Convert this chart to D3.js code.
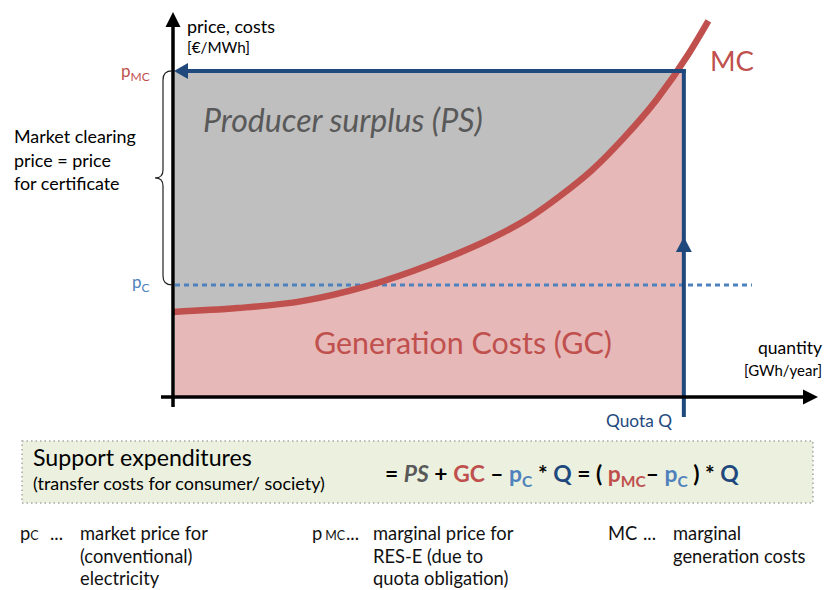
<!DOCTYPE html>
<html><head><meta charset="utf-8">
<script src="https://cdn.jsdelivr.net/npm/d3@7"></script>
<style>html,body{margin:0;padding:0;background:#fff;} svg{display:block;}</style>
</head><body>
<svg id="chart" width="824" height="590"></svg>
<script>
// ---- data (abstract units: quantity 0..100, price 0..100) ----
const quantity = [0, 10, 20, 30, 40, 50, 55, 60, 65, 70, 75, 80, 83];
const marginalCost = [22.1, 23.1, 24.9, 28.8, 34.5, 41.7, 46.3, 52.2, 59.0, 67.5, 77.3, 89.3, 97.7];
const quotaQ = [79.2];
const priceLevels = [84.7, 29.1]; // pMC, pC
const marketLabelLines = ["Market clearing", "price = price", "for certificate"];
const legendItems = [
  {sym: "p", sub: "C", lines: ["market price for", "(conventional)", "electricity"]},
  {sym: "p", sub: "MC", lines: ["marginal price for", "RES-E (due to", "quota obligation)"]},
  {sym: "MC", sub: "", lines: ["marginal", "generation costs"]}
];

const FONT = "Lato, 'Open Sans', sans-serif";
const RED = "#c0504d", PINK = "#e6b8b7", GRAY = "#bfbfbf", DBLUE = "#1f497d", LBLUE = "#4f81bd";
const svg = d3.select("#chart");

const x = d3.scaleLinear().domain([0, 100]).range([173, 818]);
const y = d3.scaleLinear().domain([0, 100]).range([397, 12]);
const pMC = priceLevels[0], pC = priceLevels[1], Q = quotaQ[0];

// helper: choose font size so text matches a target width
const meas = svg.append("text").attr("font-family", FONT).attr("opacity", 0);
function fitSize(str, target, weight = "normal", style = "normal") {
  meas.attr("font-size", 20).attr("font-weight", weight).attr("font-style", style).text(str);
  const w = meas.node().getComputedTextLength();
  return 20 * target / w;
}

const pts = quantity.map((q, i) => [q, marginalCost[i]]);

// clip for the quota rectangle
svg.append("defs").append("clipPath").attr("id", "quotaClip").append("rect")
  .attr("x", x(0) + 2).attr("y", y(pMC)).attr("width", x(Q) - x(0) - 2).attr("height", y(0) - y(pMC));

// gray producer surplus rect
svg.append("rect").attr("x", x(0) + 2).attr("y", y(pMC))
  .attr("width", x(Q) - x(0) - 2).attr("height", y(0) - y(pMC)).attr("fill", GRAY);
// pink generation costs area
svg.append("path").datum(pts).attr("clip-path", "url(#quotaClip)")
  .attr("d", d3.area().x(d => x(d[0])).y0(y(0)).y1(d => y(d[1])).curve(d3.curveMonotoneX))
  .attr("fill", PINK);

// pC dotted line
svg.append("line").attr("x1", x(0) + 2).attr("x2", 752).attr("y1", y(pC)).attr("y2", y(pC))
  .attr("stroke", LBLUE).attr("stroke-width", 3).attr("stroke-dasharray", "5,4");

// MC curve
svg.append("path").datum(pts)
  .attr("d", d3.line().x(d => x(d[0])).y(d => y(d[1])).curve(d3.curveMonotoneX))
  .attr("fill", "none").attr("stroke", RED).attr("stroke-width", 6.5);

// blue quota lines
svg.append("line").attr("x1", x(Q)).attr("x2", x(Q)).attr("y1", y(pMC) - 2).attr("y2", 417)
  .attr("stroke", DBLUE).attr("stroke-width", 4);
svg.append("line").attr("x1", x(Q) + 2).attr("x2", x(0) + 12).attr("y1", y(pMC)).attr("y2", y(pMC))
  .attr("stroke", DBLUE).attr("stroke-width", 4);
// arrowheads
svg.append("path").attr("d", `M${x(0)+1},${y(pMC)} L${x(0)+15},${y(pMC)-8} L${x(0)+15},${y(pMC)+8}Z`).attr("fill", DBLUE);
svg.append("path").attr("d", `M${x(Q)},237 L${x(Q)-8},252 L${x(Q)+8},252Z`).attr("fill", DBLUE);

// axes
svg.append("line").attr("x1", x(0)).attr("x2", x(0)).attr("y1", 407).attr("y2", 24)
  .attr("stroke", "#000").attr("stroke-width", 3.5);
svg.append("path").attr("d", `M${x(0)},12 L${x(0)-7.5},27 L${x(0)+7.5},27Z`).attr("fill", "#000");
svg.append("line").attr("x1", 161).attr("x2", 806).attr("y1", y(0)).attr("y2", y(0))
  .attr("stroke", "#000").attr("stroke-width", 3.5);
svg.append("path").attr("d", `M818,${y(0)} L803,${y(0)-7.5} L803,${y(0)+7.5}Z`).attr("fill", "#000");

// brace
const yt = y(pMC), yb = y(pC), ym = (yt + yb) / 2;
svg.append("path")
  .attr("d", `M172,${yt} Q163,${yt} 163,${yt+9} L163,${ym-8} Q163,${ym} 155,${ym} Q163,${ym} 163,${ym+8} L163,${yb-9} Q163,${yb} 172,${yb}`)
  .attr("fill", "none").attr("stroke", "#222").attr("stroke-width", 1.2);

// axis labels
let fs = fitSize("price, costs", 88);
svg.append("text").attr("x", 187).attr("y", 33).attr("font-family", FONT).attr("font-size", fs).attr("fill", "#000").text("price, costs");
fs = fitSize("[€/MWh]", 63);
svg.append("text").attr("x", 187).attr("y", 53).attr("font-family", FONT).attr("font-size", fs).attr("fill", "#000").text("[€/MWh]");
fs = fitSize("quantity", 64);
svg.append("text").attr("x", 822).attr("y", 354).attr("text-anchor", "end").attr("font-family", FONT).attr("font-size", fs).attr("fill", "#000").text("quantity");
fs = fitSize("[GWh/year]", 78);
svg.append("text").attr("x", 822).attr("y", 376).attr("text-anchor", "end").attr("font-family", FONT).attr("font-size", fs).attr("fill", "#000").text("[GWh/year]");
fs = fitSize("Quota Q", 66);
svg.append("text").attr("x", 606).attr("y", 427).attr("font-family", FONT).attr("font-size", fs).attr("fill", DBLUE).text("Quota Q");

// pMC / pC labels
const tMC = svg.append("text").attr("x", 121).attr("y", 77).attr("font-family", FONT).attr("font-size", 17).attr("fill", RED);
tMC.append("tspan").text("p");
tMC.append("tspan").attr("font-size", 12).attr("dy", 4).text("MC");
const tC = svg.append("text").attr("x", 132).attr("y", 288).attr("font-family", FONT).attr("font-size", 17).attr("fill", LBLUE);
tC.append("tspan").text("p");
tC.append("tspan").attr("font-size", 12).attr("dy", 4).text("C");

// market clearing text
fs = fitSize(marketLabelLines[0], 122);
marketLabelLines.forEach((s, i) => {
  svg.append("text").attr("x", 14).attr("y", 143 + i * 23.5).attr("font-family", FONT).attr("font-size", fs).attr("fill", "#000").text(s);
});

// area labels
fs = fitSize("Producer surplus (PS)", 280, "normal", "italic");
svg.append("text").attr("x", 203).attr("y", 132).attr("font-family", FONT).attr("font-style", "italic")
  .attr("font-size", fs).attr("fill", "#595959").text("Producer surplus (PS)");
fs = fitSize("Generation Costs (GC)", 298);
svg.append("text").attr("x", 314).attr("y", 354).attr("font-family", FONT)
  .attr("font-size", fs).attr("fill", RED).text("Generation Costs (GC)");
fs = fitSize("MC", 44);
svg.append("text").attr("x", 710).attr("y", 71).attr("font-family", FONT)
  .attr("font-size", fs).attr("fill", RED).text("MC");

// support expenditures box
svg.append("rect").attr("x", 22).attr("y", 441).attr("width", 791).attr("height", 62)
  .attr("fill", "#ebf1de").attr("stroke", "#a6a6a6").attr("stroke-width", 1.5).attr("stroke-dasharray", "1.5,3");
fs = fitSize("Support expenditures", 219);
svg.append("text").attr("x", 33).attr("y", 466).attr("font-family", FONT).attr("font-size", fs).attr("fill", "#000").text("Support expenditures");
fs = fitSize("(transfer costs for consumer/ society)", 292);
svg.append("text").attr("x", 33).attr("y", 490).attr("font-family", FONT).attr("font-size", fs).attr("fill", "#000").text("(transfer costs for consumer/ society)");

// formula
const fParts = [
  {t: "= ", c: "#000"}, {t: "PS", c: "#595959", it: true}, {t: " + ", c: "#000"}, {t: "GC", c: RED},
  {t: " – ", c: "#000"}, {t: "p", c: LBLUE}, {t: "C", c: LBLUE, sub: true}, {t: " * ", c: "#000"},
  {t: "Q", c: DBLUE}, {t: " = ( ", c: "#000"}, {t: "p", c: RED}, {t: "MC", c: RED, sub: true},
  {t: "– ", c: "#000"}, {t: "p", c: LBLUE}, {t: "C", c: LBLUE, sub: true}, {t: " ) * ", c: "#000"}, {t: "Q", c: DBLUE}
];
const fT = svg.append("text").attr("x", 385).attr("y", 482).attr("font-family", FONT)
  .attr("font-weight", "bold").attr("font-size", 22).attr("xml:space", "preserve");
let prevSub = false;
fParts.forEach(p => {
  const ts = fT.append("tspan").attr("fill", p.c).text(p.t);
  if (p.it) ts.attr("font-style", "italic");
  if (p.sub) { ts.attr("font-size", 15).attr("dy", prevSub ? 0 : 5); prevSub = true; }
  else { if (prevSub) ts.attr("dy", -5); prevSub = false; }
});
const fw = fT.node().getComputedTextLength();
fT.attr("font-size", 22 * 354 / fw);
fT.selectAll("tspan").filter(function(){ return d3.select(this).attr("font-size"); })
  .attr("font-size", 15 * 354 / fw);

// legend below
const legX = [[20, 50, 80], [312, 346, 373], [608, 643, 673]];
fs = fitSize("market price for", 128);
legendItems.forEach((it, i) => {
  const t = svg.append("text").attr("x", legX[i][0]).attr("y", 540).attr("font-family", FONT).attr("font-size", fs).attr("fill", "#111");
  t.append("tspan").text(it.sym);
  if (it.sub) t.append("tspan").attr("dx", it.sub.length > 1 ? 3 : 0).attr("font-size", fs * 0.68).text(it.sub);
  svg.append("text").attr("x", legX[i][1]).attr("y", 540).attr("font-family", FONT).attr("font-size", fs).attr("fill", "#111").text("...");
  it.lines.forEach((s, j) => {
    svg.append("text").attr("x", legX[i][2]).attr("y", 540 + j * 22.5).attr("font-family", FONT)
      .attr("font-size", fs).attr("fill", "#111").text(s);
  });
});
meas.remove();
</script>
</body></html>
